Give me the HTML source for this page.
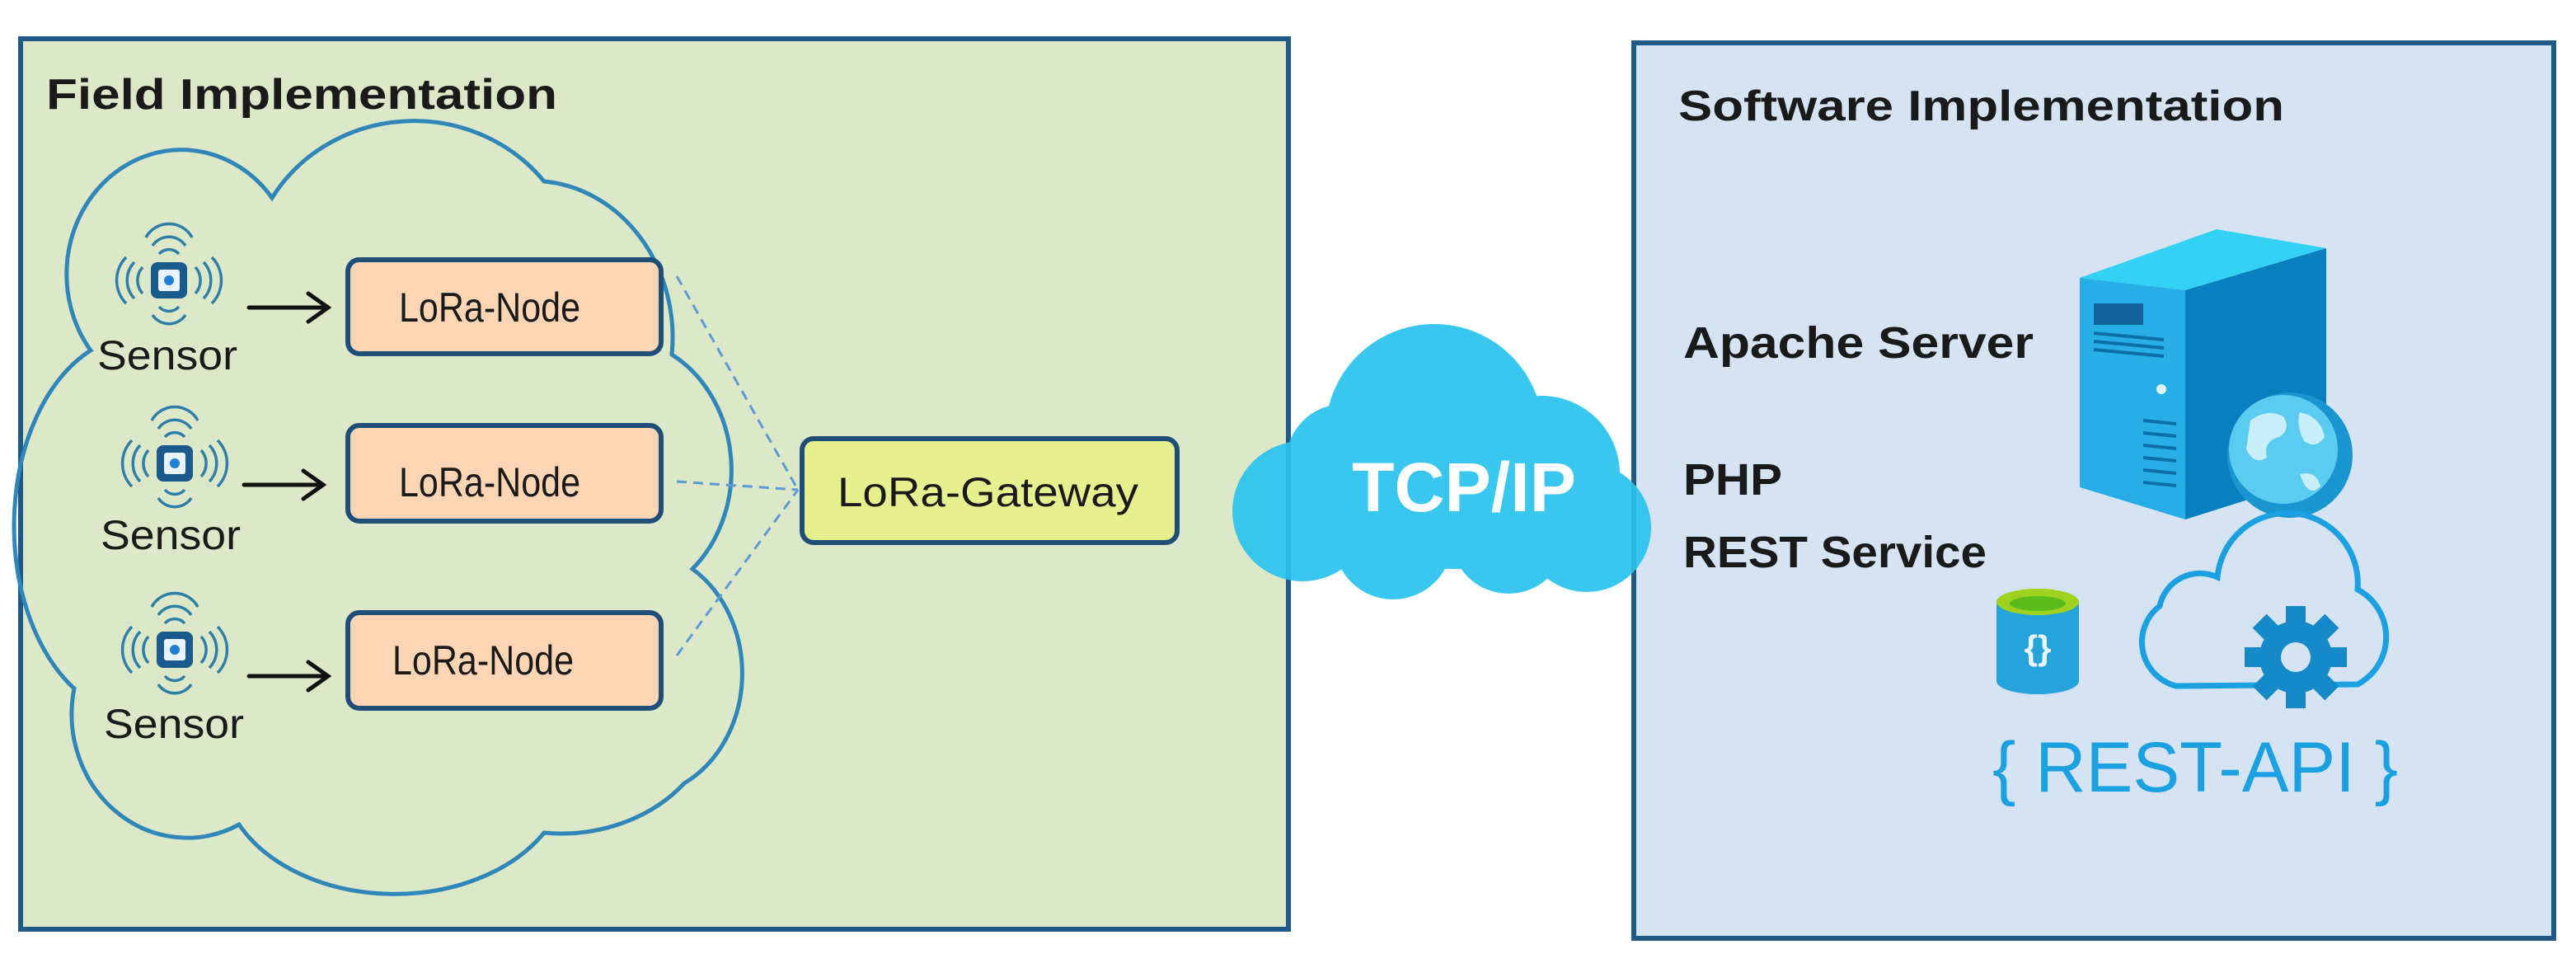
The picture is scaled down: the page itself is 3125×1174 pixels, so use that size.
<!DOCTYPE html>
<html><head><meta charset="utf-8"><style>html,body{margin:0;padding:0;background:#fff}svg{display:block}</style></head>
<body>
<svg width="3125" height="1174" viewBox="0 0 3125 1174" xmlns="http://www.w3.org/2000/svg">
<defs>
<g id="sensor">
  <rect x="-22" y="-22" width="44" height="44" rx="8" fill="#1a5a8c"/>
  <rect x="-13" y="-13" width="26" height="26" rx="3" fill="#e8f2fb"/>
  <circle cx="0" cy="0" r="6" fill="#1e7fd6"/>
  <g fill="none" stroke="#2d7ea8" stroke-width="3.5">
    <path d="M-32,-16 A24,24 0 0 0 -32,16"/><path d="M-42,-22 A32,32 0 0 0 -42,22"/><path d="M-52,-28 A40,40 0 0 0 -52,28"/>
    <path d="M32,-16 A24,24 0 0 1 32,16"/><path d="M42,-22 A32,32 0 0 1 42,22"/><path d="M52,-28 A40,40 0 0 1 52,28"/>
    <path d="M-12,-32 A16,16 0 0 1 12,-32"/><path d="M-20,-42 A24,24 0 0 1 20,-42"/><path d="M-28,-52 A32,32 0 0 1 28,-52"/>
    <path d="M-12,32 A16,16 0 0 0 12,32"/><path d="M-20,42 A24,24 0 0 0 20,42"/>
  </g>
</g>
</defs>

<rect x="25" y="47" width="1538" height="1080" fill="#dde8c8" stroke="#1f5a86" stroke-width="6"/>
<text x="56" y="132" font-family="Liberation Sans, sans-serif" font-weight="bold" font-size="52" fill="#1a1a1a" textLength="620" lengthAdjust="spacingAndGlyphs">Field Implementation</text>

<path d="M110,425 A120,130 0 0 1 330,240 A200,190 0 0 1 660,220 A170,190 0 0 1 815,430 A140,160 0 0 1 840,690 A130,150 0 0 1 830,950 A190,160 0 0 1 660,1010 A210,150 0 0 1 290,1000 A140,150 0 0 1 90,835 A150,230 0 0 1 110,425 Z" fill="none" stroke="#2f86b8" stroke-width="5"/>

<g stroke="#5b9bd5" stroke-width="3" stroke-dasharray="12,8" fill="none">
  <line x1="821" y1="335" x2="968" y2="594"/>
  <line x1="821" y1="584" x2="968" y2="594"/>
  <line x1="821" y1="795" x2="968" y2="594"/>
</g>

<use href="#sensor" x="205" y="340"/>
<use href="#sensor" x="212" y="562"/>
<use href="#sensor" x="212" y="788"/>
<g font-family="Liberation Sans, sans-serif" font-size="50" fill="#1a1a1a">
  <text x="118" y="448" textLength="170" lengthAdjust="spacingAndGlyphs">Sensor</text>
  <text x="122" y="666" textLength="170" lengthAdjust="spacingAndGlyphs">Sensor</text>
  <text x="126" y="895" textLength="170" lengthAdjust="spacingAndGlyphs">Sensor</text>
</g>

<g stroke="#111" stroke-width="5" fill="none" stroke-linecap="round">
  <line x1="302" y1="373" x2="396" y2="373"/><path d="M374,356 L398,373 L374,390"/>
  <line x1="296" y1="588" x2="390" y2="588"/><path d="M368,571 L392,588 L368,605"/>
  <line x1="302" y1="820" x2="396" y2="820"/><path d="M374,803 L398,820 L374,837"/>
</g>

<g fill="#fcd5b5" stroke="#1f4e79" stroke-width="6">
  <rect x="422" y="315" width="380" height="114" rx="14"/>
  <rect x="422" y="516" width="380" height="116" rx="14"/>
  <rect x="422" y="743" width="380" height="116" rx="14"/>
</g>
<rect x="973" y="532" width="455" height="126" rx="14" fill="#e6f08f" stroke="#1f4e79" stroke-width="6"/>
<g font-family="Liberation Sans, sans-serif" font-size="50" fill="#1a1a1a">
  <text x="484" y="390" textLength="220" lengthAdjust="spacingAndGlyphs">LoRa-Node</text>
  <text x="484" y="602" textLength="220" lengthAdjust="spacingAndGlyphs">LoRa-Node</text>
  <text x="476" y="818" textLength="220" lengthAdjust="spacingAndGlyphs">LoRa-Node</text>
  <text x="1016" y="614" textLength="365" lengthAdjust="spacingAndGlyphs">LoRa-Gateway</text>
</g>

<rect x="1982" y="52" width="1116" height="1086" fill="#d6e3f3" stroke="#1f5a86" stroke-width="6"/>
<g font-family="Liberation Sans, sans-serif" font-weight="bold" fill="#1a1a1a">
  <text x="2036" y="146" font-size="52" textLength="735" lengthAdjust="spacingAndGlyphs">Software Implementation</text>
  <text x="2042" y="434" font-size="54" textLength="425" lengthAdjust="spacingAndGlyphs">Apache Server</text>
  <text x="2042" y="600" font-size="54" textLength="120" lengthAdjust="spacingAndGlyphs">PHP</text>
  <text x="2042" y="688" font-size="54" textLength="368" lengthAdjust="spacingAndGlyphs">REST Service</text>
</g>

<g fill="#29c3ee" opacity="0.92">
  <circle cx="1740" cy="525" r="132"/>
  <circle cx="1630" cy="560" r="70"/>
  <circle cx="1580" cy="620" r="85"/>
  <circle cx="1870" cy="575" r="95"/>
  <circle cx="1925" cy="640" r="78"/>
  <circle cx="1690" cy="655" r="72"/>
  <circle cx="1830" cy="650" r="70"/>
  <rect x="1580" y="560" width="340" height="130"/>
</g>
<text x="1640" y="620" font-family="Liberation Sans, sans-serif" font-weight="bold" font-size="84" fill="#fff" textLength="272" lengthAdjust="spacingAndGlyphs">TCP/IP</text>

<polygon points="2523,337 2689,278 2822,301 2651,352" fill="#33d2f5"/>
<polygon points="2523,337 2651,352 2651,630 2523,591" fill="#27aee6"/>
<polygon points="2651,352 2822,301 2822,576 2651,630" fill="#0a7fbf"/>
<g stroke="#0e6fa8" stroke-width="4">
  <rect x="2540" y="368" width="60" height="26" fill="#13639a" stroke="none"/>
  <line x1="2540" y1="404" x2="2625" y2="412"/><line x1="2540" y1="414" x2="2625" y2="422"/><line x1="2540" y1="424" x2="2625" y2="432"/>
  <line x1="2600" y1="510" x2="2640" y2="514"/><line x1="2600" y1="525" x2="2640" y2="529"/><line x1="2600" y1="540" x2="2640" y2="544"/><line x1="2600" y1="555" x2="2640" y2="559"/><line x1="2600" y1="570" x2="2640" y2="574"/><line x1="2600" y1="585" x2="2640" y2="589"/>
</g>
<circle cx="2622" cy="472" r="6" fill="#e0f6ff"/>
<circle cx="2778" cy="552" r="76" fill="#1996cf"/>
<circle cx="2770" cy="545" r="66" fill="#5ccbf0"/>
<path d="M2730,510 q20,-15 40,-5 q10,15 -5,25 q-20,5 -15,25 q-15,10 -25,-10 z M2790,500 q25,5 30,30 q-10,15 -25,5 q-10,-20 -5,-35 z M2790,575 q20,-5 25,15 q-15,15 -25,-15 z" fill="#c8eefa"/>

<path d="M2422,730 L2422,826 A50,16 0 0 0 2522,826 L2522,730 Z" fill="#27a3dc"/>
<ellipse cx="2472" cy="730" rx="50" ry="16" fill="#9fd21e"/>
<ellipse cx="2472" cy="732" rx="34" ry="9" fill="#5dbb1e"/>
<text x="2472" y="800" font-family="Liberation Sans, sans-serif" font-weight="bold" font-size="42" fill="#e6f6ff" text-anchor="middle">{}</text>

<path d="M2640,832 A55,55 0 0 1 2620,735 A50,50 0 0 1 2690,700 A85,85 0 0 1 2860,715 A65,65 0 0 1 2860,830 Z" fill="none" stroke="#1ba1e2" stroke-width="7"/>
<g transform="translate(2785,797)" fill="#1689c9">
  <circle r="44"/>
  <g><rect x="-12" y="-62" width="24" height="124"/><rect x="-62" y="-12" width="124" height="24"/>
  <rect x="-12" y="-62" width="24" height="124" transform="rotate(45)"/><rect x="-12" y="-62" width="24" height="124" transform="rotate(-45)"/></g>
  <circle r="18" fill="#d6e3f3"/>
</g>
<text x="2417" y="960" font-family="Liberation Sans, sans-serif" font-size="86" fill="#1ba1e2" textLength="492" lengthAdjust="spacingAndGlyphs">{ REST-API }</text>
</svg>
</body></html>
